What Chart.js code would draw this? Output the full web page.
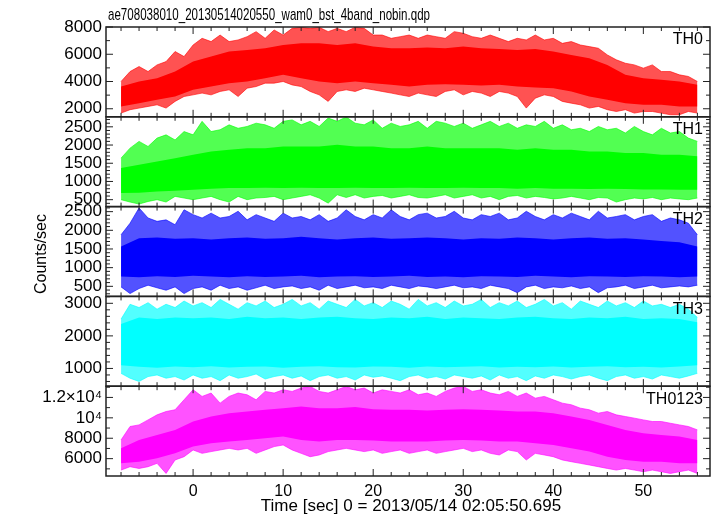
<!DOCTYPE html>
<html>
<head>
<meta charset="utf-8">
<script src="https://cdn.jsdelivr.net/npm/chart.js@4.4.1/dist/chart.umd.min.js"></script>
<style>
  html, body { margin: 0; padding: 0; background: #fff; }
  canvas { display: block; }
</style>
</head>
<body>
<canvas id="lc" width="717" height="516"></canvas>
<script>
// time grids (sec): 1 s for the spike envelope, 2 s for the dense core
const tFine = [-8,-7,-6,-5,-4,-3,-2,-1,0,1,2,3,4,5,6,7,8,9,10,11,12,13,14,15,16,17,18,19,20,21,22,23,24,25,26,27,28,29,30,31,32,33,34,35,36,37,38,39,40,41,42,43,44,45,46,47,48,49,50,51,52,53,54,55,56];
const tCoarse = [-8,-6,-4,-2,0,2,4,6,8,10,12,14,16,18,20,22,24,26,28,30,32,34,36,38,40,42,44,46,48,50,52,54,56];

// TH0
const th0Max = [4000,4730,5100,4730,5220,5460,6200,5830, 6680,7170,6930,7410,6930,7050,7290,7660,7170,7780, 7410,7900,7980,7900,7980,7660,7900,7660,7980,7900, 7410,7410,7170,7290,7410,7170,7410,7290,7170,7660, 7540,7290,7170,7410,7170,6930,7170,7050,7410,7050, 7170,6800,6930,6680,6560,6440,5950,5590,5340,5220, 4980,5220,4730,4730,4490,4370,4000];
const th0Min = [1680,1930,2050,2170,2290,2050,2540,2900, 3020,3150,3020,3270,3390,2900,3510,3630,3880,3880, 4000,3750,3630,3270,3020,2540,3270,3390,3270,3510, 3390,3270,3150,3020,2900,3150,3020,2900,3270,3390, 3020,3270,3150,2900,3270,3150,2900,2050,2780,3020, 2900,2540,2410,2290,2050,2170,1930,1800,1930,1680, 1800,1800,1680,1560,1560,1800,1680];
const th0CoreHi = [3630,4000,4240,4730,5460,5830,6200,6320,6440,6680,6800,6800,6680,6800,6560,6440,6440,6490,6440,6560,6440,6390,6320,6390,6200,5950,5710,5220,4490,4240,4120,4000,3760];
const th0CoreLo = [2170,2410,2660,2900,3390,3630,3880,4000,4240,4490,4240,4000,3880,4000,3880,3760,3630,3760,3800,3760,3710,3760,3630,3560,3510,3270,2900,2660,2410,2290,2290,2170,2170];

// TH1
const th1Max = [1640,1915,2100,1960,2190,2280,2140,2370, 2280,2650,2370,2420,2555,2460,2510,2600,2555,2460, 2650,2690,2555,2650,2510,2740,2650,2770,2600,2555, 2690,2460,2600,2510,2555,2650,2460,2650,2600,2510, 2600,2460,2555,2650,2510,2600,2460,2555,2510,2650, 2460,2555,2420,2460,2370,2510,2420,2460,2330,2510, 2370,2280,2460,2330,2370,2190,2100];
const th1Min = [500,435,380,450,500,435,590,545, 500,545,590,500,435,590,500,545,560,590, 500,545,590,635,545,405,635,560,635,545, 590,615,545,590,635,560,545,590,635,545, 590,635,545,590,500,590,615,545,590,560, 520,545,590,545,500,560,545,435,500,545, 520,560,500,545,520,500,545];
const th1CoreHi = [1370,1460,1550,1640,1730,1820,1870,1915,1915,1960,1960,1960,2010,1960,1960,1915,1915,1960,1915,1915,1915,1915,1870,1915,1870,1870,1820,1820,1780,1780,1730,1730,1690];
const th1CoreLo = [680,690,727,745,773,800,818,818,830,818,830,818,818,830,818,818,830,818,818,830,818,818,800,818,800,800,790,800,790,780,780,773,773];

// TH2
const th2Max = [1880,2190,2600,2330,2240,2280,2150,2550, 2420,2330,2460,2330,2370,2510,2280,2420,2330,2240, 2460,2330,2370,2280,2420,2240,2330,2550,2370,2280, 2420,2330,2550,2370,2280,2420,2460,2330,2370,2510, 2330,2280,2420,2370,2460,2280,2330,2510,2370,2280, 2420,2330,2460,2370,2280,2510,2330,2370,2420,2280, 2370,2420,2240,2330,2280,2190,1880];
const th2Min = [485,305,440,530,460,395,485,305, 440,485,395,530,440,485,395,460,530,440, 485,510,440,485,395,530,440,485,530,460, 485,440,530,485,440,510,485,440,485,530, 460,485,440,530,485,440,330,485,530,440, 485,460,510,440,485,330,460,485,530,440, 485,530,460,485,510,485,530];
const th2CoreHi = [1565,1790,1807,1771,1790,1753,1790,1807,1771,1790,1825,1790,1753,1790,1807,1771,1790,1807,1790,1753,1790,1771,1807,1790,1753,1790,1807,1771,1790,1753,1717,1681,1565];
const th2CoreLo = [760,740,770,750,780,760,740,770,750,760,780,740,760,770,750,760,780,750,760,740,770,760,750,780,760,740,770,760,750,770,760,740,760];

// TH3
const th3Max = [2515,2970,2870,3020,2820,2970,2870,3070, 2920,3020,2870,3120,2970,2820,3020,2920,3070,2870, 2970,3120,2920,3020,2820,3070,2970,2870,3120,2920, 3020,2870,3070,2970,2820,3120,2920,3020,2870,3070, 2920,2970,3120,2870,3020,2920,3070,2870,2970,3120, 2920,3020,2820,3070,2970,2870,3070,2920,3020,2870, 3070,2920,2970,2870,2970,2820,2565];
const th3Min = [850,700,600,750,800,700,750,645, 800,700,750,625,800,700,750,830,675,750, 800,700,770,625,750,800,700,750,645,800, 730,770,700,625,750,800,700,750,675,800, 750,700,770,645,800,700,750,625,770,700, 800,750,675,750,800,700,625,750,800,700, 750,675,800,750,700,770,850];
const th3CoreHi = [2364,2566,2515,2566,2540,2566,2515,2590,2540,2566,2515,2566,2590,2540,2515,2566,2540,2590,2515,2566,2540,2515,2566,2590,2540,2515,2566,2540,2590,2515,2540,2515,2415];
const th3CoreLo = [1100,1050,1020,1060,1040,1070,1030,1050,1060,1020,1050,1070,1040,1030,1060,1050,1020,1060,1040,1050,1070,1030,1050,1040,1060,1030,1050,1070,1040,1050,1030,1060,1100];

// TH0123
const th4Max = [7830,9150,9310,9800,10290,10620,10790,11770, 12750,12100,12430,11440,12100,12430,12260,11770,12590,12430, 12750,12590,12920,13080,12590,12430,12750,13080,12750,12920, 12430,12750,12590,12430,12750,12260,12430,12100,12590,12920, 13080,12590,12750,12430,12260,12590,12100,12430,11930,12100, 11770,11440,11280,10950,10790,10460,10620,10290,10130,9970, 9800,9640,9640,9470,9310,9150,8820];
const th4Min = [4880,5210,5040,5210,5540,4550,5870,6190, 6850,6520,6690,6850,7010,6850,7010,6520,6850,7180, 7340,6850,6520,6190,6360,6690,6850,7010,6850,6690, 6850,6520,6690,6850,6520,6690,6850,6520,6690,6850, 7010,6690,6850,6520,6360,6850,6690,5870,6520,6360, 6190,5870,5700,5540,5380,5210,5040,4880,5040,4880, 4720,4880,4720,4550,4720,4880,4550];
const th4CoreHi = [7010,7830,8330,8820,9640,10130,10460,10620,10790,10950,11110,10950,10950,11050,10850,10790,10790,10720,10790,10850,10790,10720,10620,10620,10460,10130,9800,9310,8820,8490,8330,8160,7830];
const th4CoreLo = [5540,5700,6030,6520,7180,7510,7670,7830,8000,8160,7830,7670,7830,7830,7770,7670,7670,7670,7770,7830,7770,7670,7670,7510,7340,7010,6690,6190,5870,5700,5700,5540,5540];

const panelNames = ['TH0', 'TH1', 'TH2', 'TH3', 'TH0123'];
const yTicks = [
    [2000, 4000, 6000, 8000],
    [500, 1000, 1500, 2000, 2500],
    [500, 1000, 1500, 2000, 2500],
    [1000, 2000, 3000],
    [6000, 8000, 10000, 12000]
];
const xTicks = [0, 10, 20, 30, 40, 50];
const yLimits = [[1410, 8000], [310, 2775], [230, 2635], [455, 3212], [4300, 13100]];
const yMajor = [2000, 500, 500, 1000, 2000];
const yMinor = [1000, 100, 100, 200, 1000];
const xMajor = 10, xMinor = 2;

const colors = ['255,0,0', '0,255,0', '0,0,255', '0,255,255', '255,0,255'];
const series = [
    [th0Max, th0Min, th0CoreHi, th0CoreLo],
    [th1Max, th1Min, th1CoreHi, th1CoreLo],
    [th2Max, th2Min, th2CoreHi, th2CoreLo],
    [th3Max, th3Min, th3CoreHi, th3CoreLo],
    [th4Max, th4Min, th4CoreHi, th4CoreLo]
];

const FONT = '"Liberation Sans", Arial, Helvetica, sans-serif';
const toPts = (xs, ys) => ys.map((v, i) => ({ x: xs[i], y: v }));

const datasets = [];
series.forEach((s, i) => {
    const c = colors[i], yid = 'y' + i;
    // solid core first so it is painted over the spike band
    datasets.push({ label: panelNames[i] + ' core', data: toPts(tCoarse, s[2]), yAxisID: yid,
        borderWidth: 0, borderColor: 'rgb(' + c + ')', backgroundColor: 'rgb(' + c + ')', fill: '+1' });
    datasets.push({ label: panelNames[i] + ' core lo', data: toPts(tCoarse, s[3]), yAxisID: yid,
        borderWidth: 0, borderColor: 'rgb(' + c + ')', fill: false });
    datasets.push({ label: panelNames[i], data: toPts(tFine, s[0]), yAxisID: yid,
        borderWidth: 1, borderColor: 'rgba(' + c + ',0.6)', backgroundColor: 'rgba(' + c + ',0.68)', fill: '+1' });
    datasets.push({ label: panelNames[i] + ' lo', data: toPts(tFine, s[1]), yAxisID: yid,
        borderWidth: 1, borderColor: 'rgba(' + c + ',0.6)', fill: false });
});

function yTickLabel(v) {
    if (v === 12000) return '1.2\u00d710\u2074';
    if (v === 10000) return '10\u2074';
    return String(v);
}

const scales = {
    x: {
        type: 'linear', position: 'bottom', min: -9.67, max: 57.4,
        grid: { display: false, drawTicks: false }, border: { display: false },
        ticks: { padding: 6, color: '#000', font: { family: FONT, size: 16 } },
        afterBuildTicks: s => { s.ticks = xTicks.map(v => ({ value: v })); },
        afterFit: s => { s.height = 40; }
    }
};
// bottom panel defined first; the layout stacks them upward
for (let i = 4; i >= 0; i--) {
    scales['y' + i] = {
        type: 'linear', position: 'left', stack: 'panels', stackWeight: 1,
        min: yLimits[i][0], max: yLimits[i][1],
        grid: { display: false, drawTicks: false }, border: { display: false },
        ticks: { autoSkip: false, padding: 4, color: '#000',
            font: { family: FONT, size: 17, lineHeight: 1 }, callback: yTickLabel },
        afterBuildTicks: s => { s.ticks = yTicks[i].map(v => ({ value: v })); },
        afterFit: s => { s.width = 106; }
    };
}

function seg(ctx, x1, y1, x2, y2) {
    ctx.beginPath(); ctx.moveTo(x1, y1); ctx.lineTo(x2, y2); ctx.stroke();
}

const framePlugin = {
    id: 'qdpFrame',
    afterDraw(chart) {
        const ctx = chart.ctx, area = chart.chartArea, xs = chart.scales.x;
        ctx.save();
        ctx.strokeStyle = '#222';
        for (let i = 0; i < 5; i++) {
            const ys = chart.scales['y' + i];
            const top = ys.top, bot = ys.bottom;
            ctx.lineWidth = 1;
            for (let t = -8; t <= 56; t += xMinor) {
                const px = xs.getPixelForValue(t);
                const len = t % xMajor === 0 ? 7 : 4;
                seg(ctx, px, top, px, top + len);
                seg(ctx, px, bot, px, bot - len);
            }
            for (let v = Math.ceil(ys.min / yMinor[i]) * yMinor[i]; v <= ys.max; v += yMinor[i]) {
                const py = ys.getPixelForValue(v);
                const len = v % yMajor[i] === 0 ? 7 : 4;
                seg(ctx, area.left, py, area.left + len, py);
                seg(ctx, area.right, py, area.right - len, py);
            }
            ctx.lineWidth = 1.5;
            ctx.strokeRect(area.left, top, area.right - area.left, bot - top);

            ctx.fillStyle = '#000';
            ctx.font = '16px ' + FONT;
            ctx.textAlign = 'right';
            ctx.textBaseline = 'top';
            ctx.fillText(panelNames[i], area.right - 7, top + 5);
        }

        ctx.fillStyle = '#000';
        ctx.textAlign = 'left';
        ctx.textBaseline = 'alphabetic';
        ctx.font = '17px ' + FONT;
        ctx.fillText('ae708038010_20130514020550_wam0_bst_4band_nobin.qdp', 108, 20, 322);

        ctx.font = '17px ' + FONT;
        ctx.textAlign = 'center';
        ctx.textBaseline = 'middle';
        ctx.fillText('Time [sec] 0 = 2013/05/14 02:05:50.695', 411, 506);

        ctx.translate(42, 254);
        ctx.rotate(-Math.PI / 2);
        ctx.font = '16px ' + FONT;
        ctx.fillText('Counts/sec', 0, 0);
        ctx.restore();
    }
};

new Chart(document.getElementById('lc'), {
    type: 'line',
    data: { datasets: datasets },
    options: {
        responsive: false,
        animation: false,
        devicePixelRatio: 1,
        layout: { padding: { top: 27, right: 7, left: 0, bottom: 0 } },
        elements: { point: { radius: 0 }, line: { tension: 0 } },
        plugins: { legend: { display: false }, tooltip: { enabled: false }, title: { display: false } },
        scales: scales
    },
    plugins: [framePlugin]
});
</script>
</body>
</html>
